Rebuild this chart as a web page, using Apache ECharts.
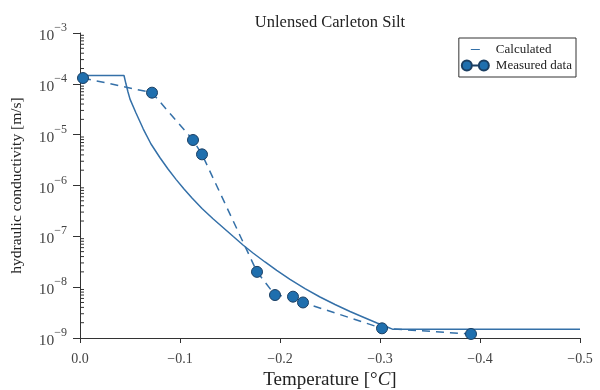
<!DOCTYPE html>
<html>
<head>
<meta charset="utf-8">
<script src="https://cdn.jsdelivr.net/npm/echarts@6/dist/echarts.min.js"></script>
<style>
  html, body { margin: 0; padding: 0; background: #fff; }
  #chart { width: 600px; height: 390px; }
</style>
</head>
<body>
<div id="chart"></div>
<script>
// Calculated hydraulic conductivity curve (temperature in °C, K in m/s)
const calcTemp = [0, -0.044, -0.046, -0.048, -0.050, -0.056, -0.0633, -0.071, -0.080, -0.088, -0.096, -0.104, -0.112, -0.122, -0.133, -0.143, -0.1533, -0.163, -0.173, -0.185, -0.1967, -0.210, -0.225, -0.240, -0.255, -0.270, -0.284, -0.297, -0.306, -0.313, -0.5];
const calcK = [1.46e-4, 1.46e-4, 9.9e-5, 6.9e-5, 5.0e-5, 2.67e-5, 1.29e-5, 6.55e-6, 3.52e-6, 2.11e-6, 1.32e-6, 8.5e-7, 5.67e-7, 3.52e-7, 2.22e-7, 1.49e-7, 9.9e-8, 6.75e-8, 4.7e-8, 3.13e-8, 2.13e-8, 1.42e-8, 9.4e-9, 6.4e-9, 4.56e-9, 3.32e-9, 2.53e-9, 1.97e-9, 1.68e-9, 1.48e-9, 1.48e-9];

// Measured data points
const measTemp = [-0.003, -0.072, -0.113, -0.122, -0.177, -0.195, -0.213, -0.223, -0.302, -0.391];
const measK = [1.30e-4, 6.7e-5, 7.85e-6, 4.1e-6, 2.0e-8, 7.0e-9, 6.5e-9, 5.0e-9, 1.55e-9, 1.2e-9];

// Axis ranges
const yMin = 1e-9, yMax = 1e-3;
const xMin = -0.5, xMax = 0, xStep = 0.1;
const seriesNames = ['Calculated', 'Measured data'];

const FONT = 'Liberation Serif';
const LINE_COLOR = '#3470a8';
const MARK_COLOR = '#1f6fae';
const MARK_EDGE = '#1b3f63';

// Minor log ticks (2..9 × 10^k) on the y axis
const minorTicks = [];
for (let e = Math.log10(yMin); e < Math.log10(yMax); e++) {
  for (let m = 2; m <= 9; m++) minorTicks.push([0, m * Math.pow(10, e)]);
}

const chart = echarts.init(document.getElementById('chart'), null, { renderer: 'canvas' });

const option = {
  animation: false,
  backgroundColor: '#fff',
  title: {
    text: 'Unlensed Carleton Silt',
    left: 325,
    top: 9,
    textAlign: 'center',
    textStyle: { fontFamily: FONT, fontSize: 16.5, fontWeight: 'normal', color: '#222' }
  },
  legend: {
    data: [
      { name: seriesNames[0], icon: 'path://M0,5 L0.01,5 L0.01,5.01 Z M9,4.4 L18,4.4 L18,5.6 L9,5.6 Z M27,5 L26.99,5 L26.99,5.01 Z' },
      { name: seriesNames[1], icon: 'path://M0,5 A5,5 0 1 1 10,5 L17,5 A5,5 0 1 1 27,5 A5,5 0 1 1 17,5 L10,5 A5,5 0 1 1 0,5 Z' }
    ],
    orient: 'vertical',
    right: 24,
    top: 38,
    itemWidth: 27,
    itemHeight: 10,
    itemGap: 3,
    padding: [5, 4, 5, 2],
    borderColor: '#333',
    borderWidth: 1,
    borderRadius: 0,
    textStyle: { fontFamily: FONT, fontSize: 13, color: '#222', padding: [0, 0, 0, 2] }
  },
  grid: { left: 80, right: 20, top: 33, bottom: 52, containLabel: false, outerBoundsMode: 'none' },
  xAxis: {
    type: 'value',
    inverse: true,
    min: xMin,
    max: xMax,
    interval: xStep,
    name: '{n|Temperature [°}{i|C}{n|]}',
    nameLocation: 'middle',
    nameGap: 32,
    nameTextStyle: {
      rich: {
        n: { fontFamily: FONT, fontSize: 19, color: '#222' },
        i: { fontFamily: FONT, fontSize: 19, fontStyle: 'italic', color: '#222' }
      }
    },
    axisLine: { show: true, onZero: false, lineStyle: { color: '#333', width: 1 } },
    axisTick: { show: true, inside: false, length: 5, lineStyle: { color: '#333' } },
    splitLine: { show: false },
    axisLabel: {
      margin: 14,
      fontFamily: FONT,
      fontSize: 14,
      color: '#444',
      formatter: v => (Math.abs(v) < 1e-9 ? '0.0' : '\u2212' + Math.abs(v).toFixed(1))
    }
  },
  yAxis: {
    type: 'log',
    logBase: 10,
    min: yMin,
    max: yMax,
    name: 'hydraulic conductivity [m/s]',
    nameLocation: 'middle',
    nameGap: 55,
    nameTextStyle: { fontFamily: FONT, fontSize: 15.5, color: '#222' },
    axisLine: { show: true, onZero: false, lineStyle: { color: '#333', width: 1 } },
    axisTick: { show: true, inside: false, length: 7, lineStyle: { color: '#333' } },
    splitLine: { show: false },
    axisLabel: {
      margin: 13,
      formatter: v => {
        const e = Math.round(Math.log10(v));
        return '{b|10}{s|' + (e < 0 ? '\u2212' + (-e) : e) + '}';
      },
      rich: {
        b: { fontFamily: FONT, fontSize: 15.5, color: '#444', verticalAlign: 'bottom', lineHeight: 22 },
        s: { fontFamily: FONT, fontSize: 12, color: '#444', verticalAlign: 'top', lineHeight: 22 }
      }
    }
  },
  series: [
    {
      name: seriesNames[0],
      type: 'line',
      data: calcTemp.map((t, i) => [t, calcK[i]]),
      symbol: 'none',
      lineStyle: { color: LINE_COLOR, width: 1.5 },
      itemStyle: { color: LINE_COLOR },
      z: 2
    },
    {
      name: seriesNames[1],
      type: 'line',
      data: measTemp.map((t, i) => [t, measK[i]]),
      symbol: 'circle',
      symbolSize: 11,
      showAllSymbol: true,
      lineStyle: { color: LINE_COLOR, width: 1.5, type: [8, 6] },
      itemStyle: { color: MARK_COLOR, borderColor: MARK_EDGE, borderWidth: 1 },
      clip: false,
      z: 3
    },
    {
      name: 'minorTicks',
      type: 'custom',
      silent: true,
      clip: false,
      data: minorTicks,
      renderItem: (params, api) => {
        const p = api.coord([0, api.value(1)]);
        return {
          type: 'line',
          shape: { x1: p[0], y1: p[1], x2: p[0] + 4, y2: p[1] },
          style: { stroke: '#333', lineWidth: 1 }
        };
      },
      z: 1
    }
  ]
};

chart.setOption(option);
</script>
</body>
</html>
